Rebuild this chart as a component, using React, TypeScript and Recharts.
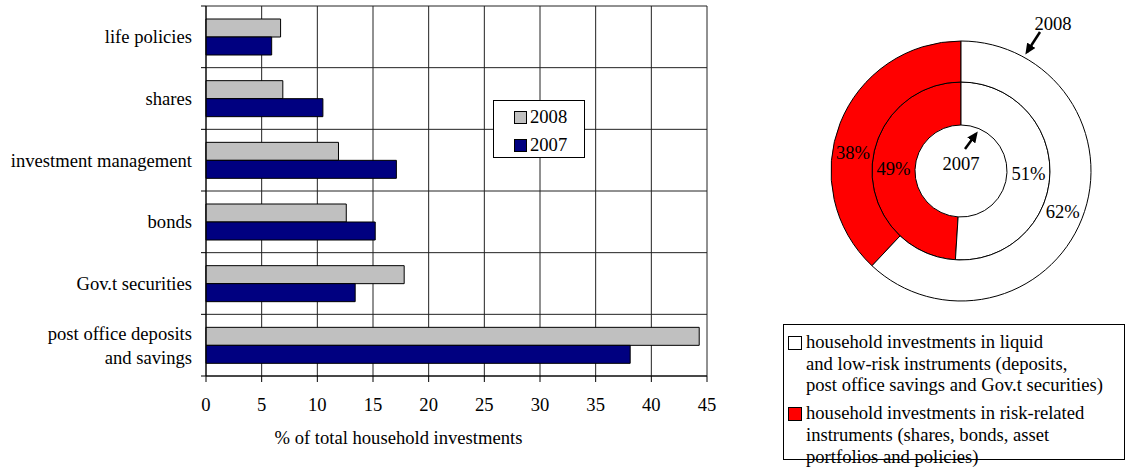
import {
  BarChart,
  Bar,
  XAxis,
  YAxis,
  CartesianGrid,
  Legend,
  Label,
  PieChart,
  Pie,
  Cell,
  Customized,
} from 'recharts'

// Bar chart data: share of total household investments (%)
const categories = [
  'life policies',
  'shares',
  'investment management',
  'bonds',
  'Gov.t securities',
  'post office deposits\nand savings',
]
const values2008 = [6.7, 6.9, 11.9, 12.6, 17.8, 44.3]
const values2007 = [5.9, 10.5, 17.1, 15.2, 13.4, 38.1]
const seriesNames = ['2008', '2007']
const seriesColors = ['#c0c0c0', '#000080']
const xTicks = [0, 5, 10, 15, 20, 25, 30, 35, 40, 45]
const xAxisTitle = '% of total household investments'

// Donut data: risk-related vs liquid/low-risk split
const groupNames = ['risk-related', 'liquid and low-risk']
const share2008 = [38, 62]
const share2007 = [49, 51]
const groupColors = ['#ff0000', '#ffffff']
const legendLiquid = [
  'household investments in liquid',
  'and low-risk instruments (deposits,',
  'post office savings and Gov.t securities)',
]
const legendRisk = [
  'household investments in risk-related',
  'instruments (shares, bonds, asset',
  'portfolios and policies)',
]

const FONT = 'Liberation Serif, DejaVu Serif, serif'
const FS = 18.6

const BAR_W = 760
const BAR_H = 470
const MARGIN = { top: 6, right: 53, bottom: 24, left: 0 }
const Y_AXIS_W = 206
const X_AXIS_H = 70
const PLOT_H = BAR_H - MARGIN.top - MARGIN.bottom - X_AXIS_H
const BAND = PLOT_H / categories.length
const TICK_GAP = 14

const barData = categories.map((name, i) => ({
  name,
  y2008: values2008[i],
  y2007: values2007[i],
}))

const pieOuter = groupNames.map((name, i) => ({ name, value: share2008[i] }))
const pieInner = groupNames.map((name, i) => ({ name, value: share2007[i] }))

function CategoryTick(props: any) {
  const { x, y, payload, index } = props
  const lines = String(payload.value).split('\n')
  const axisX = x + TICK_GAP
  return (
    <g>
      {lines.map((line: string, i: number) => (
        <text
          key={i}
          x={x}
          y={y + (i - (lines.length - 1) / 2) * 24}
          dy="0.35em"
          textAnchor="end"
          fill="#000"
          fontSize={FS}
          fontFamily={FONT}
        >
          {line}
        </text>
      ))}
      <line x1={axisX - 5} x2={axisX} y1={y - BAND / 2} y2={y - BAND / 2} stroke="#000" />
      {index === categories.length - 1 && (
        <line x1={axisX - 5} x2={axisX} y1={y + BAND / 2} y2={y + BAND / 2} stroke="#000" />
      )}
    </g>
  )
}

function YearLegend() {
  return (
    <div
      style={{
        width: 92,
        height: 58,
        border: '1px solid #000',
        background: '#fff',
        fontFamily: FONT,
        fontSize: FS,
        color: '#000',
        padding: '5px 0 0 20px',
        boxSizing: 'border-box',
      }}
    >
      {seriesNames.map((name, i) => (
        <div key={name} style={{ display: 'flex', alignItems: 'center', height: 22, marginBottom: 6 }}>
          <span
            style={{
              width: 11,
              height: 11,
              border: '1px solid #000',
              background: seriesColors[i],
              marginRight: 3,
              display: 'inline-block',
            }}
          />
          {name}
        </div>
      ))}
    </div>
  )
}

function GroupLegend() {
  const groups = [
    { color: groupColors[1], lines: legendLiquid },
    { color: groupColors[0], lines: legendRisk },
  ]
  return (
    <div
      style={{
        width: 342,
        height: 136,
        border: '1px solid #000',
        background: '#fff',
        fontFamily: FONT,
        fontSize: FS,
        lineHeight: '21.7px',
        padding: '6px 0 0 4px',
        boxSizing: 'border-box',
        color: '#000',
      }}
    >
      {groups.map((g, gi) => (
        <div key={gi} style={{ display: 'flex', marginBottom: 6 }}>
          <span
            style={{
              width: 12,
              height: 12,
              border: '1px solid #000',
              background: g.color,
              marginTop: 5,
              marginRight: 4,
              flexShrink: 0,
            }}
          />
          <div>
            {g.lines.map((l) => (
              <div key={l} style={{ whiteSpace: 'nowrap' }}>{l}</div>
            ))}
          </div>
        </div>
      ))}
    </div>
  )
}

const RAD = Math.PI / 180
// the outer red label sits a little lower than its slice midpoint
const OUTER_LABEL_SHIFT = [12, 0]

function makeShareLabel(shift: number[]) {
  return (props: any) => {
    const { cx, cy, midAngle, innerRadius, outerRadius, value, index } = props
    const r = (innerRadius + outerRadius) / 2
    const a = (midAngle + (shift[index] || 0)) * RAD
    const x = cx + r * Math.cos(-a)
    const y = cy + r * Math.sin(-a)
    return (
      <text x={x} y={y} dy="0.35em" textAnchor="middle" fill="#000" fontSize={FS} fontFamily={FONT}>
        {value}%
      </text>
    )
  }
}

// Year callouts with arrows pointing at the rings
function YearCallouts() {
  return (
    <g fontFamily={FONT} fontSize={FS} fill="#000">
      <defs>
        <marker id="arrowHead" markerWidth="11" markerHeight="10" refX="8" refY="5" orient="auto" markerUnits="userSpaceOnUse">
          <path d="M0,0 L11,5 L0,10 Z" fill="#000" />
        </marker>
      </defs>
      <text x={273} y={23} dy="0.35em" textAnchor="middle">2008</text>
      <line x1={260} y1={32} x2={247} y2={52} stroke="#000" strokeWidth={2.5} markerEnd="url(#arrowHead)" />
      <text x={181} y={163} dy="0.35em" textAnchor="middle">2007</text>
      <line x1={185} y1={149} x2={196} y2={134} stroke="#000" strokeWidth={2.5} markerEnd="url(#arrowHead)" />
    </g>
  )
}

export default function App() {
  return (
    <div style={{ position: 'absolute', left: 0, top: 0, width: 1126, height: 470, background: '#fff', fontFamily: FONT }}>
      <div style={{ position: 'absolute', left: 0, top: 0 }}>
        <BarChart
          width={BAR_W}
          height={BAR_H}
          data={barData}
          layout="vertical"
          margin={MARGIN}
          barSize={18}
          barGap={0}
        >
          <CartesianGrid
            stroke="#222"
            horizontalCoordinatesGenerator={({ offset }: any) =>
              categories.map((_, i) => offset.top + (i * offset.height) / categories.length).concat(offset.top + offset.height)
            }
          />
          <XAxis
            type="number"
            domain={[0, 45]}
            ticks={xTicks}
            height={X_AXIS_H}
            stroke="#000"
            tickSize={6}
            tickMargin={16}
            tick={{ fill: '#000', fontSize: FS, fontFamily: FONT }}
          >
            <Label
              content={({ viewBox }: any) => (
                <text
                  x={viewBox.x + viewBox.width / 2 - 58}
                  y={viewBox.y + 68}
                  textAnchor="middle"
                  fill="#000"
                  fontSize={FS}
                  fontFamily={FONT}
                >
                  {xAxisTitle}
                </text>
              )}
            />
          </XAxis>
          <YAxis
            type="category"
            dataKey="name"
            width={Y_AXIS_W}
            stroke="#000"
            tickLine={false}
            tickSize={0}
            tickMargin={TICK_GAP}
            interval={0}
            tick={<CategoryTick />}
          />
          <Legend
            layout="vertical"
            align="center"
            verticalAlign="middle"
            content={<YearLegend />}
            wrapperStyle={{ left: 493, top: 100, width: 92, height: 58 }}
          />
          <Bar dataKey="y2008" name={seriesNames[0]} fill={seriesColors[0]} stroke="#000" strokeWidth={1} isAnimationActive={false} />
          <Bar dataKey="y2007" name={seriesNames[1]} fill={seriesColors[1]} stroke="#000" strokeWidth={1} isAnimationActive={false} />
        </BarChart>
      </div>
      <div style={{ position: 'absolute', left: 780, top: 0 }}>
        <PieChart width={346} height={470} margin={{ top: 0, right: 0, bottom: 0, left: 0 }}>
          <Pie
            data={pieInner}
            dataKey="value"
            nameKey="name"
            cx={181}
            cy={171}
            innerRadius={46}
            outerRadius={89}
            startAngle={90}
            endAngle={450}
            stroke="#000"
            strokeWidth={1}
            label={makeShareLabel([0, 0])}
            labelLine={false}
            isAnimationActive={false}
          >
            {pieInner.map((d, i) => (
              <Cell key={d.name} fill={groupColors[i]} />
            ))}
          </Pie>
          <Pie
            data={pieOuter}
            dataKey="value"
            nameKey="name"
            cx={181}
            cy={171}
            innerRadius={89}
            outerRadius={130}
            startAngle={90}
            endAngle={450}
            stroke="#000"
            strokeWidth={1}
            label={makeShareLabel(OUTER_LABEL_SHIFT)}
            labelLine={false}
            isAnimationActive={false}
          >
            {pieOuter.map((d, i) => (
              <Cell key={d.name} fill={groupColors[i]} />
            ))}
          </Pie>
          <Customized component={<YearCallouts />} />
          <Legend
            layout="vertical"
            align="center"
            verticalAlign="middle"
            content={<GroupLegend />}
            wrapperStyle={{ left: 3, top: 324, width: 342, height: 136 }}
          />
        </PieChart>
      </div>
    </div>
  )
}
